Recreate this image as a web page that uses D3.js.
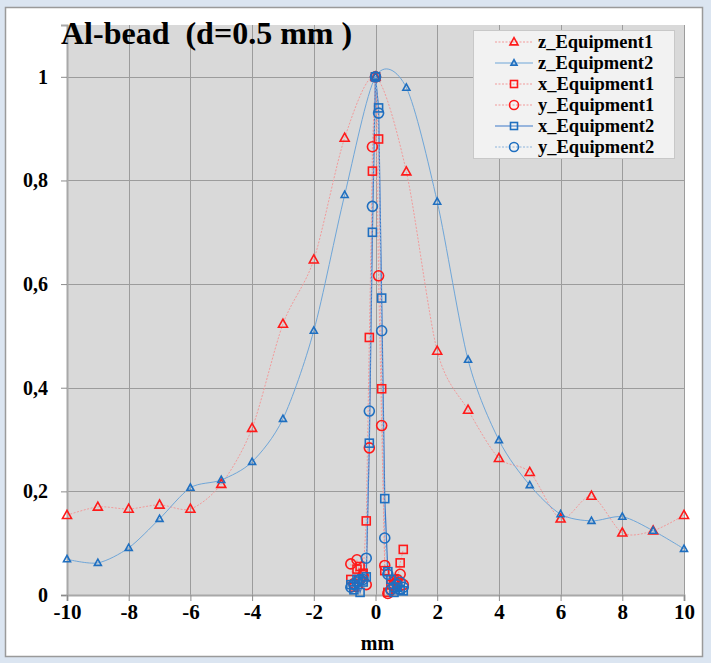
<!DOCTYPE html>
<html>
<head>
<meta charset="utf-8">
<script src="https://cdn.jsdelivr.net/npm/d3@7"></script>
<style>
  body { margin: 0; background: #dbe5f1; }
  svg { display: block; }
  text { font-family: "Liberation Serif", "Times New Roman", serif; font-weight: bold; fill: #000; }
</style>
</head>
<body>
<div id="chart"></div>
<script>
// Data
var zPos = [-10, -9, -8, -7, -6, -5, -4, -3, -2, -1, 0, 1, 2, 3, 4, 5, 6, 7, 8, 9, 10];
var zEquipment1 = [0.154, 0.170, 0.166, 0.174, 0.166, 0.214, 0.322, 0.523, 0.647, 0.882, 1.0,
                   0.817, 0.471, 0.357, 0.264, 0.237, 0.147, 0.191, 0.120, 0.124, 0.154];
var zEquipment2 = [0.069, 0.062, 0.091, 0.147, 0.207, 0.222, 0.257, 0.340, 0.510, 0.772, 1.0,
                   0.979, 0.759, 0.454, 0.299, 0.212, 0.156, 0.143, 0.151, 0.124, 0.089];

var scanPos = [-0.8, -0.7, -0.6, -0.5, -0.4, -0.3, -0.2, -0.1, 0, 0.1, 0.2, 0.3, 0.4, 0.5, 0.6, 0.7, 0.8, 0.9];
var xEquipment1 = [0.030, 0.015, 0.050, 0.055, 0.042, 0.143, 0.497, 0.818, 1.0, 0.880, 0.398, 0.047,
                   0.005, 0.020, 0.030, 0.025, 0.062, 0.088];
var yEquipment1 = [0.060, 0.022, 0.068, 0.030, 0.038, 0.020, 0.284, 0.865, 1.0, 0.616, 0.327, 0.057,
                   0.003, 0.010, 0.020, 0.030, 0.040, 0.020];
var xEquipment2 = [0.020, 0.010, 0.030, 0.005, 0.025, 0.035, 0.293, 0.700, 1.0, 0.940, 0.573, 0.186,
                   0.045, 0.030, 0.005, 0.015, 0.010, 0.008];
var yEquipment2 = [0.015, 0.020, 0.025, 0.030, 0.030, 0.071, 0.355, 0.750, 1.0, 0.930, 0.510, 0.110,
                   0.040, 0.010, 0.015, 0.020, 0.025, 0.015];

var xTicks = [-10, -8, -6, -4, -2, 0, 2, 4, 6, 8, 10];
var yTicks = [0, 0.2, 0.4, 0.6, 0.8, 1];

var series = [
    {name: "z_Equipment1", xs: zPos, ys: zEquipment1, marker: "triangle", color: "#ff1a1a", line: "#f29a9a", dash: "2,1.5", width: 1, size: 9, smooth: true},
    {name: "z_Equipment2", xs: zPos, ys: zEquipment2, marker: "triangle", color: "#1f6fc0", line: "#6fa6d8", dash: null, width: 1, size: 7, smooth: true},
    {name: "x_Equipment1", xs: scanPos, ys: xEquipment1, marker: "square", color: "#ff1a1a", line: "#f29a9a", dash: "2,1.5", width: 1, size: 8, smooth: false},
    {name: "y_Equipment1", xs: scanPos, ys: yEquipment1, marker: "circle", color: "#ff1a1a", line: "#f29a9a", dash: "2,1.5", width: 1, size: 10, smooth: false},
    {name: "x_Equipment2", xs: scanPos, ys: xEquipment2, marker: "square", color: "#1f6fc0", line: "#3c78c8", dash: null, width: 1.2, size: 8, smooth: false},
    {name: "y_Equipment2", xs: scanPos, ys: yEquipment2, marker: "circle", color: "#1f6fc0", line: "#8cb4dc", dash: "2,1.5", width: 1, size: 10, smooth: false}
];

// Layout
var width = 711, height = 663;
var plot = {left: 67, right: 684, top: 25, bottom: 595};

var svg = d3.select("#chart").append("svg")
    .attr("width", width)
    .attr("height", height);

svg.append("rect")
    .attr("x", 0).attr("y", 0)
    .attr("width", width).attr("height", height)
    .attr("fill", "#dbe5f1");

svg.append("rect")
    .attr("x", 5.5).attr("y", 7.5)
    .attr("width", 697).attr("height", 649)
    .attr("fill", "#ffffff")
    .attr("stroke", "#9a9a9a")
    .attr("stroke-width", 1.5);

var x = d3.scaleLinear().domain([-10, 10]).range([plot.left, plot.right]);
var y = d3.scaleLinear().domain([0, 1.1]).range([plot.bottom, plot.top]);

// Plot area
svg.append("rect")
    .attr("x", plot.left).attr("y", plot.top)
    .attr("width", plot.right - plot.left)
    .attr("height", plot.bottom - plot.top)
    .attr("fill", "#d9d9d9");

var gridG = svg.append("g").attr("class", "grid");
gridG.selectAll(".vgrid")
    .data(xTicks)
    .enter().append("line")
    .attr("x1", function(d) { return Math.round(x(d)) + 0.5; })
    .attr("x2", function(d) { return Math.round(x(d)) + 0.5; })
    .attr("y1", plot.top).attr("y2", plot.bottom)
    .attr("stroke", "#9c9c9c").attr("stroke-width", 1);
gridG.selectAll(".hgrid")
    .data(yTicks)
    .enter().append("line")
    .attr("x1", plot.left).attr("x2", plot.right)
    .attr("y1", function(d) { return Math.round(y(d)) + 0.5; })
    .attr("y2", function(d) { return Math.round(y(d)) + 0.5; })
    .attr("stroke", "#9c9c9c").attr("stroke-width", 1);

// Axes
var fmt = function(d) { return d3.format("")(d).replace(".", ","); };

var yAxis = svg.append("g")
    .attr("transform", "translate(" + plot.left + ",0)")
    .call(d3.axisLeft(y).tickValues(yTicks).tickSize(6).tickPadding(13).tickFormat(fmt));
var xAxis = svg.append("g")
    .attr("transform", "translate(0," + plot.bottom + ")")
    .call(d3.axisBottom(x).tickValues(xTicks).tickSize(6).tickPadding(3).tickFormat(function(d) { return d; }));

[xAxis, yAxis].forEach(function(a) {
    a.select(".domain").attr("stroke", "#a8a8a8").attr("stroke-width", 2);
    a.selectAll(".tick line").attr("stroke", "#8c8c8c");
    a.selectAll("text")
        .style("font-family", "'Liberation Serif', serif").style("font-weight", "bold");
});
yAxis.selectAll("text").attr("font-size", 20);
xAxis.selectAll("text").attr("font-size", 21);

svg.append("text")
    .attr("x", (plot.left + plot.right) / 2 + 2)
    .attr("y", 650)
    .attr("text-anchor", "middle")
    .attr("font-size", 20)
    .text("mm");

svg.append("text")
    .attr("x", 61)
    .attr("y", 44)
    .attr("font-size", 32)
    .attr("xml:space", "preserve")
    .style("white-space", "pre")
    .text("Al-bead  (d=0.5 mm )");

// Markers
function drawMarker(sel, type, size, color) {
    if (type === "circle") {
        sel.append("circle").attr("r", size / 2)
            .attr("fill", "none").attr("stroke", color).attr("stroke-width", 1.6);
    } else if (type === "square") {
        sel.append("rect")
            .attr("x", -size / 2).attr("y", -size / 2)
            .attr("width", size).attr("height", size)
            .attr("fill", "none").attr("stroke", color).attr("stroke-width", 1.6);
    } else {
        var h = size * 0.9;
        sel.append("path")
            .attr("d", "M0," + (-h * 0.6) + "L" + (size / 2) + "," + (h * 0.4) + "L" + (-size / 2) + "," + (h * 0.4) + "Z")
            .attr("fill", "none").attr("stroke", color).attr("stroke-width", 1.6);
    }
}

svg.append("clipPath").attr("id", "plotClip")
    .append("rect")
    .attr("x", plot.left).attr("y", plot.top)
    .attr("width", plot.right - plot.left).attr("height", plot.bottom - plot.top);

var seriesG = svg.append("g").attr("class", "series");

series.forEach(function(s) {
    var pts = s.xs.map(function(d, i) { return [d, s.ys[i]]; });
    var line = d3.line()
        .x(function(d) { return x(d[0]); })
        .y(function(d) { return y(d[1]); })
        .curve(s.smooth ? d3.curveCardinal.tension(0.15) : d3.curveLinear);
    seriesG.append("path")
        .datum(pts)
        .attr("d", line)
        .attr("fill", "none")
        .attr("stroke", s.line)
        .attr("stroke-width", s.width)
        .attr("stroke-dasharray", s.dash)
        .attr("clip-path", "url(#plotClip)");
});

series.forEach(function(s) {
    var pts = s.xs.map(function(d, i) { return [d, s.ys[i]]; });
    seriesG.append("g").selectAll("g")
        .data(pts)
        .enter().append("g")
        .attr("transform", function(d) { return "translate(" + x(d[0]) + "," + y(d[1]) + ")"; })
        .each(function() { drawMarker(d3.select(this), s.marker, s.size, s.color); });
});

// Legend
var legendG = svg.append("g").attr("transform", "translate(473,30)");
legendG.append("rect")
    .attr("x", 0.5).attr("y", 0.5)
    .attr("width", 201).attr("height", 128)
    .attr("fill", "#f2f2f2")
    .attr("stroke", "#c8c8c8");

var rowG = legendG.selectAll(".legendRow")
    .data(series)
    .enter().append("g")
    .attr("class", "legendRow")
    .attr("transform", function(d, i) { return "translate(0," + (12 + i * 21) + ")"; });

rowG.append("line")
    .attr("x1", 22).attr("x2", 60)
    .attr("stroke", function(d) { return d.line; })
    .attr("stroke-width", function(d) { return d.width; })
    .attr("stroke-dasharray", function(d) { return d.dash; });
rowG.append("g")
    .attr("transform", "translate(41,0)")
    .each(function(d) { drawMarker(d3.select(this), d.marker, d.size - 1, d.color); });
rowG.append("text")
    .attr("x", 65)
    .attr("y", 6)
    .attr("font-size", 18.5)
    .text(function(d) { return d.name; });
</script>
</body>
</html>
